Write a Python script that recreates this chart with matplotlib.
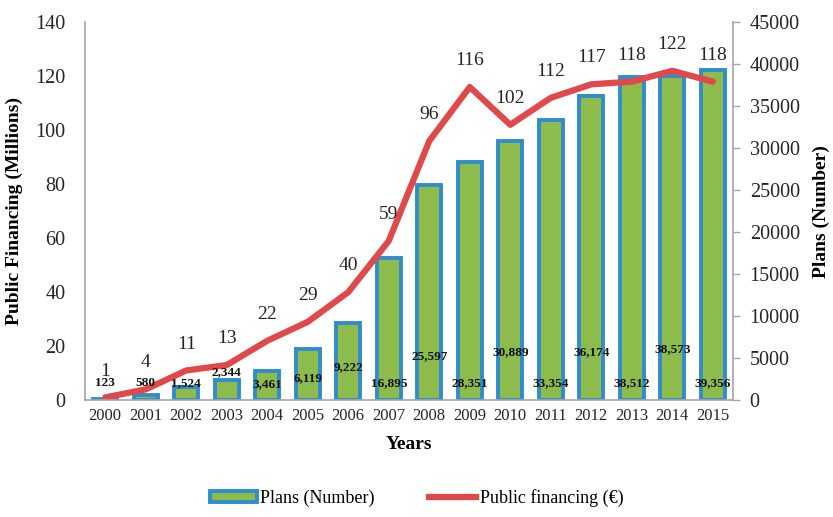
import matplotlib
matplotlib.use("Agg")
import matplotlib.pyplot as plt
import numpy as np
from matplotlib.patches import Patch
from matplotlib.lines import Line2D

plt.rcParams['font.family'] = ['Liberation Serif', 'DejaVu Serif']

years = ['2000', '2001', '2002', '2003', '2004', '2005', '2006', '2007',
         '2008', '2009', '2010', '2011', '2012', '2013', '2014', '2015']
plans = [123, 580, 1524, 2344, 3461, 6119, 9222, 16895,
         25597, 28351, 30889, 33354, 36174, 38512, 38573, 39356]
financing = [1, 4, 11, 13, 22, 29, 40, 59, 96, 116, 102, 112, 117, 118, 122, 118]

# where the plan labels sit (right axis units)
label_y = [2000, 2000, 2000, 3350, 1900, 2600, 3900, 2000,
           5250, 2000, 5700, 2000, 5700, 2000, 6050, 2000]

x = np.arange(len(years))
green = '#8DBB4C'
blue = '#2F8DCD'
red = '#E0484A'
grey = '#A6A6A6'

fig = plt.figure(figsize=(8.33, 5.17), dpi=100)
ax1 = fig.add_axes([0.102, 0.226, 0.778, 0.731])
ax2 = ax1.twinx()

ax2.bar(x, plans, width=0.6, color=green, edgecolor=blue, linewidth=2.8)
ax1.plot(x, financing, color=red, linewidth=4.5, solid_capstyle='round')

# line above the bars
ax1.set_zorder(ax2.get_zorder() + 1)
ax1.patch.set_visible(False)

for i in range(len(years)):
    ax1.annotate(str(financing[i]), (x[i], financing[i]), xytext=(0, 19),
                 textcoords='offset points', ha='center', va='center',
                 fontsize=14, color='#262626')
    ax1.text(x[i], label_y[i], f'{plans[i]:,}', transform=ax2.transData,
             ha='center', va='center', fontsize=9.5, fontweight='bold',
             color='#111111')

ax1.set_xlim(-0.5, len(years) - 0.5)
ax1.set_ylim(0, 140)
ax2.set_ylim(0, 45000)
ax1.set_yticks(range(0, 141, 20))
ax2.set_yticks(range(0, 45001, 5000))
ax1.set_xticks(x)
ax1.set_xticklabels(years)

ax1.tick_params(axis='x', labelsize=12, length=0, pad=6, colors='#262626')
ax1.tick_params(axis='y', labelsize=14.5, length=0, pad=14, colors='#262626')
ax2.tick_params(axis='y', labelsize=14.5, length=5, width=1, color=grey,
                pad=7, labelcolor='#262626')

for ax in (ax1, ax2):
    ax.spines['top'].set_visible(False)
    for s in ('left', 'right', 'bottom'):
        ax.spines[s].set_color(grey)
        ax.spines[s].set_linewidth(1.2)
ax1.spines['right'].set_visible(False)
ax2.spines['left'].set_visible(False)
ax2.spines['bottom'].set_visible(False)

ax1.set_ylabel('Public Financing (Millions)', fontsize=14, fontweight='bold', labelpad=9)
ax2.set_ylabel('Plans (Number)', fontsize=14, fontweight='bold', labelpad=9)
ax1.set_xlabel('Years', fontsize=14, fontweight='bold', labelpad=8)

handles = [Patch(facecolor=green, edgecolor=blue, linewidth=2.8),
           Line2D([0], [0], color=red, linewidth=4.5)]
fig.legend(handles, ['Plans (Number)', 'Public financing (€)'], loc='lower center',
           bbox_to_anchor=(0.5, -0.012), ncol=2, frameon=False, fontsize=13,
           handlelength=2.6, handleheight=0.6, handletextpad=0.2, columnspacing=3.0)

fig.savefig('out.png', dpi=100)
